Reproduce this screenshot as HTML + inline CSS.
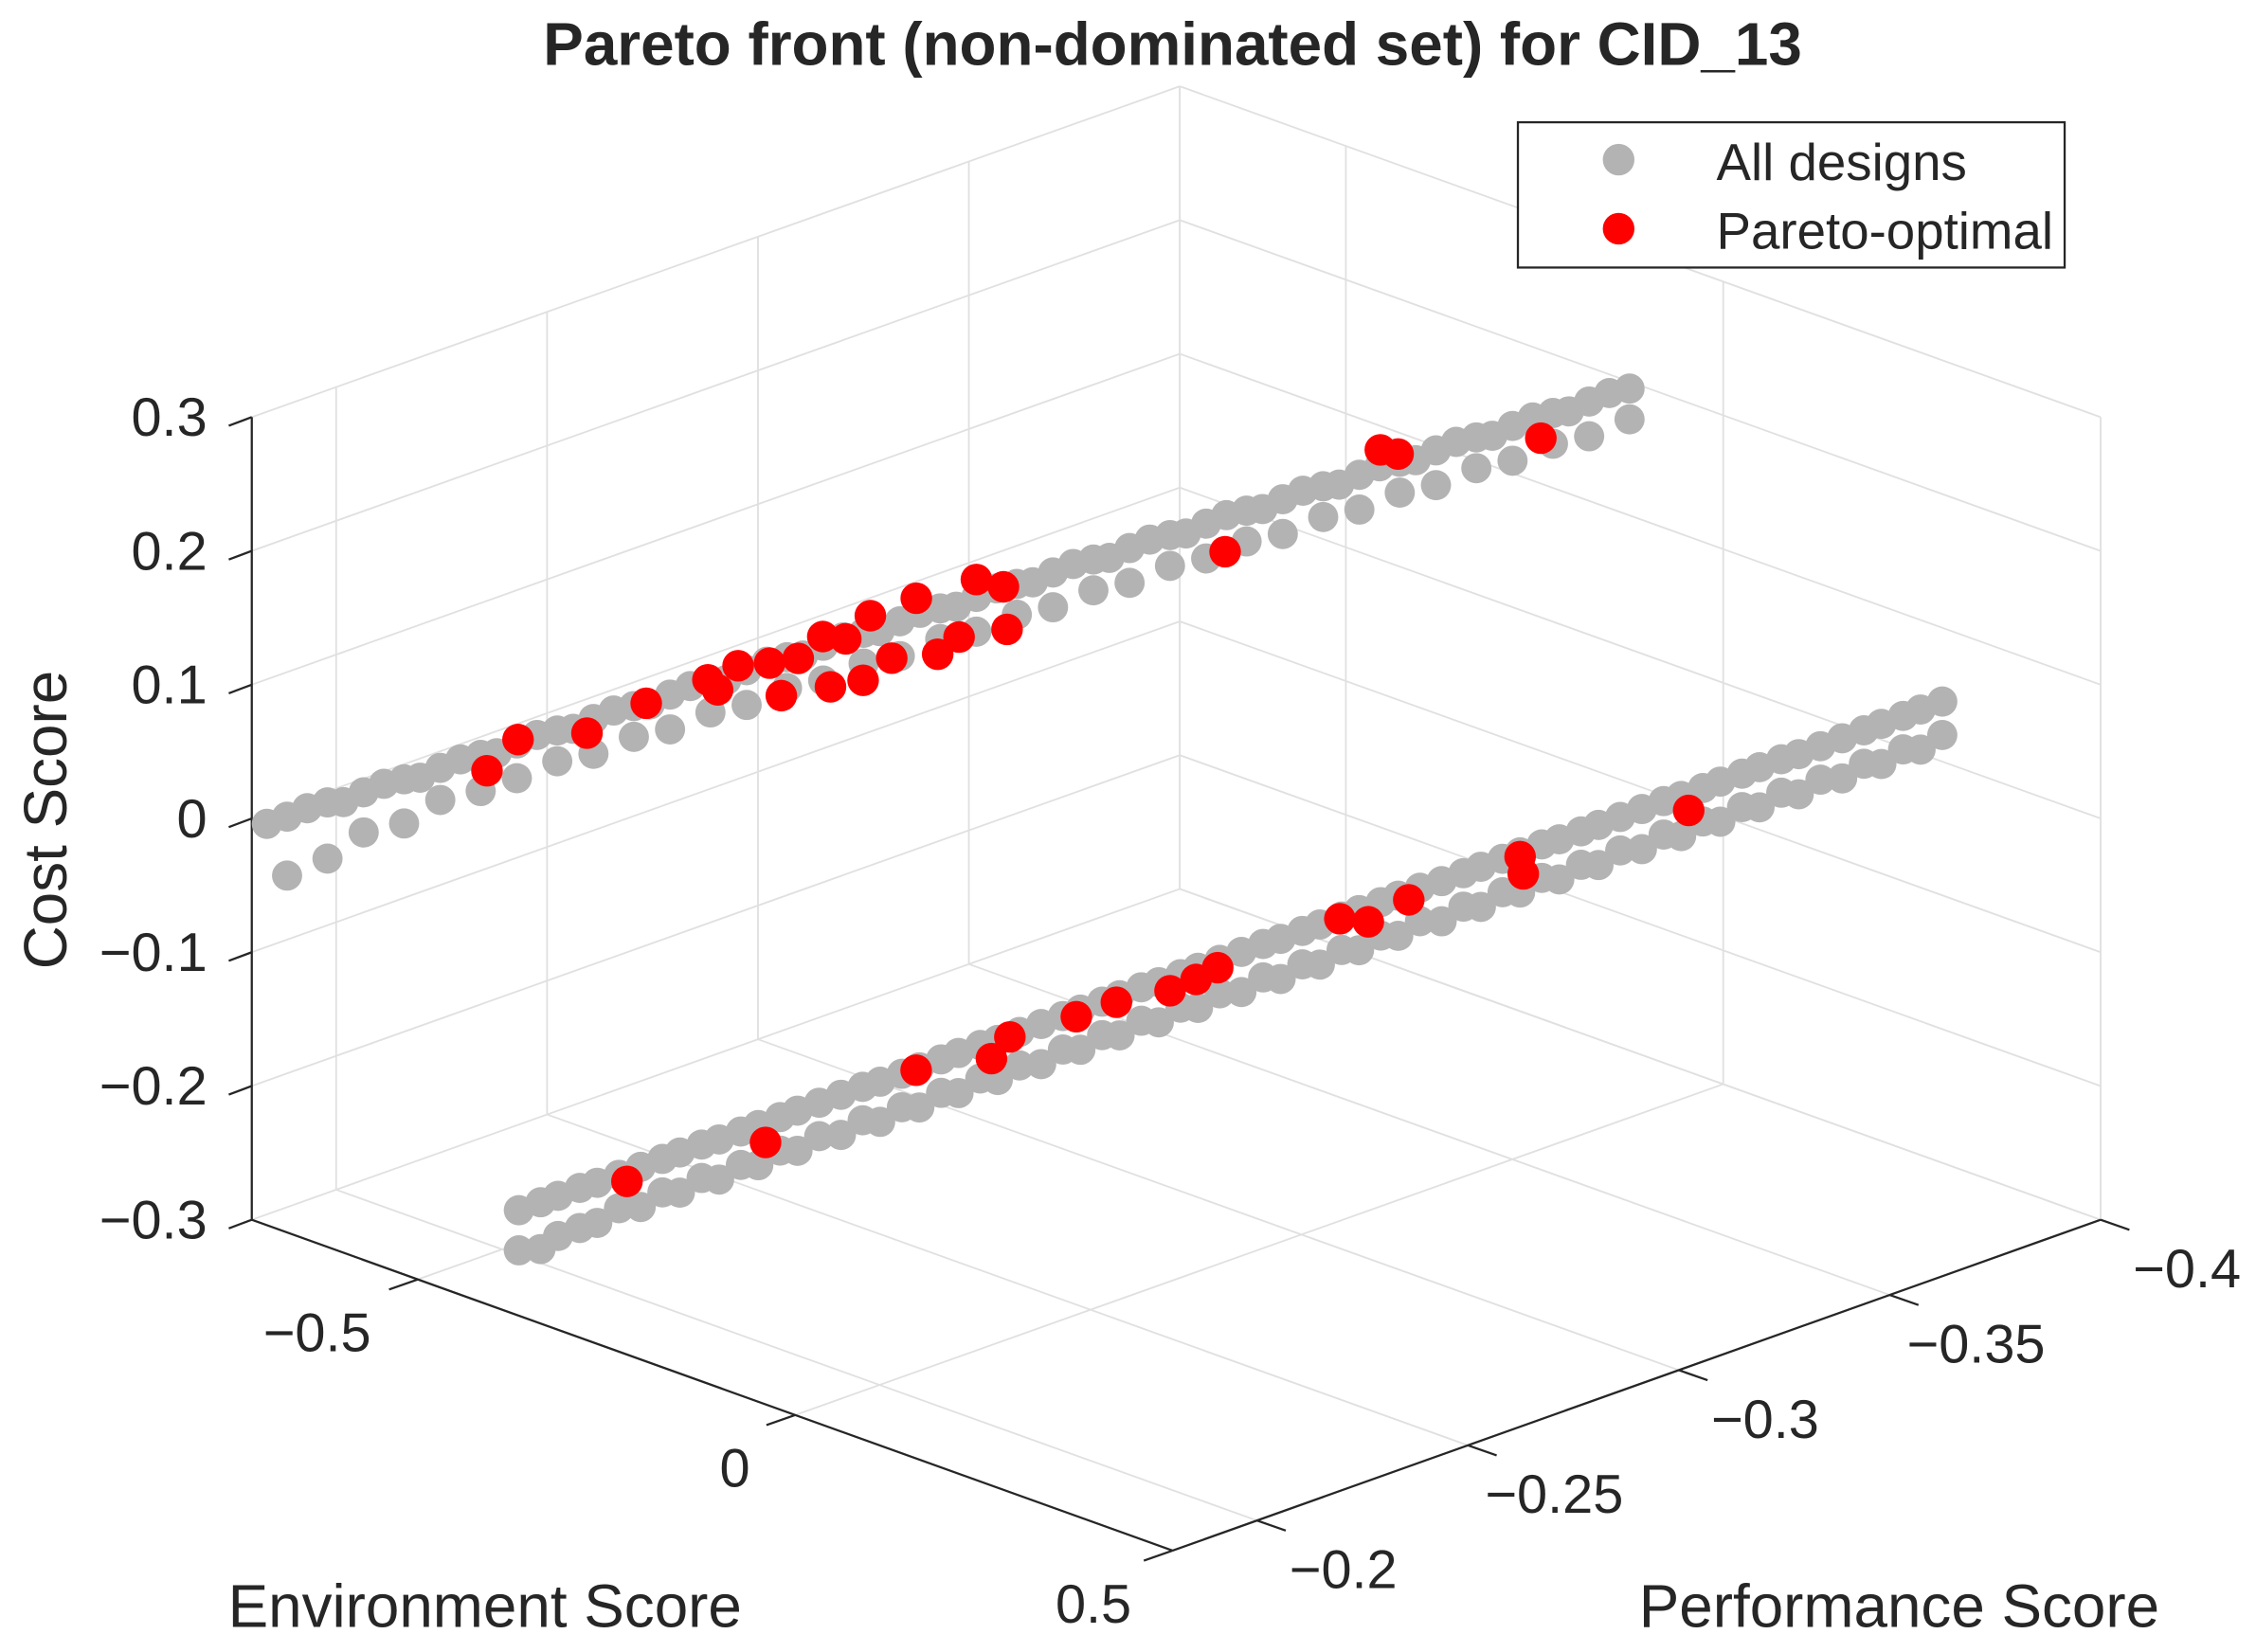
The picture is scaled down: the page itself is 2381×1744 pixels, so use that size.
<!DOCTYPE html>
<html><head><meta charset="utf-8"><style>
html,body{margin:0;padding:0;background:#fff;}
svg{display:block;}
text{font-family:"Liberation Sans",Arial,sans-serif;fill:#262626;}
</style></head><body>
<svg id="chart" width="2381" height="1744" viewBox="0 0 1568 1148.5" preserveAspectRatio="none" xmlns="http://www.w3.org/2000/svg">
<rect width="1568" height="1148.5" fill="#fff"/>
<g id="grid"></g>
<g id="axes"></g>
<g id="gray"></g>
<g id="red"></g>
<text x="815" y="45" text-anchor="middle" font-weight="bold" fill="#000" style="font-size:42px">Pareto front (non-dominated set) for CID_13</text>
<text transform="translate(46,570) rotate(-90)" text-anchor="middle" font-size="42">Cost Score</text>
<text x="337" y="1131" text-anchor="middle" font-size="42">Environment Score</text>
<text x="1320" y="1131" text-anchor="middle" font-size="42">Performance Score</text>
<g>
<rect x="1055" y="85" width="380" height="101" fill="#fff" stroke="#262626" stroke-width="1.5"/>
<circle cx="1125" cy="111" r="11" fill="#b3b3b3"/>
<text x="1193" y="125" font-size="36" fill="#000">All designs</text>
<circle cx="1125" cy="159" r="11" fill="#ff0000"/>
<text x="1193" y="173" font-size="36" fill="#000">Pareto-optimal</text>
</g>
</svg>
<script>
const envTicks=[-0.5,0,0.5];
const envTickLabels=["\u22120.5","0","0.5"];
const perfTicks=[-0.2,-0.25,-0.3,-0.35,-0.4];
const perfTickLabels=["\u22120.2","\u22120.25","\u22120.3","\u22120.35","\u22120.4"];
const costTicks=[0.3,0.2,0.1,0,-0.1,-0.2,-0.3];
const costTickLabels=["0.3","0.2","0.1","0","\u22120.1","\u22120.2","\u22120.3"];

const upperAEnv=[-0.70,-0.68,-0.66,-0.64,-0.62,-0.60,-0.58,-0.56,-0.54,-0.52,-0.50,-0.48,-0.46,-0.44,-0.42,-0.40,-0.38,-0.36,-0.34,-0.32,-0.30,-0.28,-0.26,-0.24,-0.22,-0.20,-0.18,-0.16,-0.14,-0.12,-0.10,-0.08,-0.06,-0.04,-0.02,0.00];
const upperAPerf=[-0.180,-0.186,-0.191,-0.197,-0.202,-0.208,-0.213,-0.219,-0.224,-0.230,-0.235,-0.241,-0.246,-0.252,-0.257,-0.263,-0.268,-0.274,-0.279,-0.285,-0.290,-0.296,-0.301,-0.307,-0.312,-0.318,-0.323,-0.329,-0.334,-0.340,-0.345,-0.351,-0.356,-0.362,-0.367,-0.373];
const upperACost=[0.000,0.009,0.012,0.023,0.026,0.037,0.040,0.051,0.054,0.065,0.068,0.079,0.082,0.093,0.096,0.107,0.110,0.121,0.124,0.135,0.138,0.149,0.152,0.163,0.166,0.177,0.180,0.191,0.194,0.205,0.208,0.219,0.222,0.233,0.236,0.247];
const upperBEnv=[-0.69,-0.67,-0.65,-0.63,-0.61,-0.59,-0.57,-0.55,-0.53,-0.51,-0.49,-0.47,-0.45,-0.43,-0.41,-0.39,-0.37,-0.35,-0.33,-0.31,-0.29,-0.27,-0.25,-0.23,-0.21,-0.19,-0.17,-0.15,-0.13,-0.11,-0.09,-0.07,-0.05,-0.03,-0.01,0.01];
const upperBPerf=[-0.183,-0.189,-0.194,-0.200,-0.205,-0.211,-0.216,-0.222,-0.227,-0.233,-0.238,-0.244,-0.249,-0.255,-0.260,-0.266,-0.271,-0.277,-0.282,-0.288,-0.293,-0.299,-0.304,-0.310,-0.315,-0.321,-0.326,-0.332,-0.337,-0.343,-0.348,-0.354,-0.359,-0.365,-0.370,-0.376];
const upperBCost=[-0.040,-0.030,-0.012,-0.008,0.008,0.012,0.020,0.030,0.034,0.044,0.048,0.058,0.062,0.072,0.076,0.086,0.090,0.100,0.104,0.114,0.118,0.128,0.132,0.142,0.146,0.156,0.160,0.170,0.174,0.184,0.188,0.198,0.202,0.212,0.216,0.226];
const upperCCost=[0.004,0.012,0.018,0.025,0.032,0.039,0.046,0.053,0.060,0.067,0.074,0.081,0.088,0.095,0.102,0.109,0.116,0.123,0.130,0.137,0.144,0.151,0.158,0.165,0.172,0.179,0.186,0.193,0.200,0.207,0.214,0.221,0.228,0.235,0.242,0.249];
const lowerAEnv=[-0.450,-0.426,-0.402,-0.378,-0.354,-0.330,-0.306,-0.282,-0.258,-0.234,-0.210,-0.186,-0.162,-0.138,-0.114,-0.090,-0.066,-0.042,-0.018,0.006,0.030,0.054,0.078,0.102,0.126,0.150,0.174,0.198,0.222,0.246,0.270,0.294,0.318,0.342,0.366,0.390];
const lowerAPerf=[-0.195,-0.200,-0.205,-0.211,-0.216,-0.221,-0.226,-0.231,-0.237,-0.242,-0.247,-0.252,-0.257,-0.263,-0.268,-0.273,-0.278,-0.283,-0.289,-0.294,-0.299,-0.304,-0.309,-0.315,-0.320,-0.325,-0.330,-0.335,-0.341,-0.346,-0.351,-0.356,-0.361,-0.367,-0.372,-0.377];
const lowerACost=[-0.255,-0.245,-0.236,-0.226,-0.216,-0.207,-0.197,-0.187,-0.177,-0.168,-0.158,-0.148,-0.139,-0.129,-0.119,-0.109,-0.100,-0.090,-0.080,-0.071,-0.061,-0.051,-0.041,-0.032,-0.022,-0.012,-0.003,0.007,0.017,0.026,0.036,0.046,0.055,0.065,0.075,0.085];
const lowerBEnv=[-0.438,-0.414,-0.390,-0.366,-0.342,-0.318,-0.294,-0.270,-0.246,-0.222,-0.198,-0.174,-0.150,-0.126,-0.102,-0.078,-0.054,-0.030,-0.006,0.018,0.042,0.066,0.090,0.114,0.138,0.162,0.186,0.210,0.234,0.258,0.282,0.306,0.330,0.354,0.378,0.402];
const lowerBPerf=[-0.198,-0.203,-0.208,-0.214,-0.219,-0.224,-0.229,-0.234,-0.240,-0.245,-0.250,-0.255,-0.260,-0.266,-0.271,-0.276,-0.281,-0.286,-0.292,-0.297,-0.302,-0.307,-0.312,-0.318,-0.323,-0.328,-0.333,-0.338,-0.344,-0.349,-0.354,-0.359,-0.364,-0.370,-0.375,-0.380];
const lowerBCost=[-0.285,-0.270,-0.256,-0.246,-0.236,-0.227,-0.217,-0.207,-0.197,-0.188,-0.178,-0.168,-0.159,-0.149,-0.139,-0.129,-0.120,-0.110,-0.100,-0.091,-0.081,-0.071,-0.061,-0.052,-0.042,-0.032,-0.023,-0.013,-0.003,0.006,0.016,0.026,0.035,0.045,0.055,0.065];
const lowerCCost=[-0.250,-0.240,-0.231,-0.221,-0.211,-0.202,-0.192,-0.182,-0.172,-0.163,-0.153,-0.143,-0.134,-0.124,-0.114,-0.104,-0.095,-0.085,-0.075,-0.066,-0.056,-0.046,-0.036,-0.027,-0.017,-0.007,0.002,0.012,0.022,0.031,0.041,0.051,0.060,0.070,0.080,0.090];
const lowerDCost=[-0.285,-0.275,-0.266,-0.256,-0.246,-0.237,-0.227,-0.217,-0.207,-0.198,-0.188,-0.178,-0.169,-0.159,-0.149,-0.139,-0.130,-0.120,-0.110,-0.101,-0.091,-0.081,-0.071,-0.062,-0.052,-0.042,-0.033,-0.023,-0.013,-0.004,0.006,0.016,0.025,0.035,0.045,0.055];

const paretoEnv=[-0.585,-0.569,-0.533,-0.502,-0.470,-0.465,-0.454,-0.438,-0.432,-0.423,-0.410,-0.406,-0.398,-0.389,-0.385,-0.374,-0.361,-0.350,-0.339,-0.330,-0.316,-0.314,-0.200,-0.119,-0.110,-0.036,
 -0.385,-0.302,-0.212,-0.167,-0.156,-0.116,-0.092,-0.060,-0.044,-0.031,0.042,0.059,0.083,0.150,0.152,0.251];
const paretoPerf=[-0.2116,-0.2161,-0.226,-0.2345,-0.2434,-0.2448,-0.2477,-0.2523,-0.254,-0.2564,-0.2599,-0.261,-0.2632,-0.2657,-0.2667,-0.2698,-0.2733,-0.2764,-0.2795,-0.282,-0.2859,-0.2864,-0.3177,-0.340,-0.3426,-0.3632,
 -0.209,-0.227,-0.2466,-0.2564,-0.2588,-0.2674,-0.2726,-0.2796,-0.2829,-0.2857,-0.3016,-0.3053,-0.3106,-0.325,-0.3254,-0.3469];
const paretoCost=[0.0275,0.049,0.050,0.069,0.083,0.075,0.092,0.092,0.067,0.094,0.109,0.071,0.106,0.074,0.122,0.089,0.1325,0.0894,0.101,0.143,0.136,0.104,0.150,0.2175,0.2133,0.217,
 -0.236,-0.2103,-0.1601,-0.1533,-0.1376,-0.124,-0.1142,-0.107,-0.099,-0.0907,-0.0572,-0.0602,-0.0449,-0.0152,-0.0281,0.0152];

const ENV_MIN=-0.72, ENV_MAX=0.5, PERF_FRONT=-0.18, PERF_BACK=-0.40, Z_MIN=-0.3, Z_PX=930;
const FRONT=[815,1078], EV=[640,230], PV=[645,-230];
function proj(e,p,z){
  const fe=(ENV_MAX-e)/(ENV_MAX-ENV_MIN);
  const fp=(p-PERF_FRONT)/(PERF_BACK-PERF_FRONT);
  return [FRONT[0]-fe*EV[0]+fp*PV[0], FRONT[1]-fe*EV[1]+fp*PV[1]-(z-Z_MIN)*Z_PX];
}
const NS="http://www.w3.org/2000/svg";
function line(g,a,b,col,w,name){
  const l=document.createElementNS(NS,'line');
  l.setAttribute('x1',a[0]);l.setAttribute('y1',a[1]);l.setAttribute('x2',b[0]);l.setAttribute('y2',b[1]);
  l.setAttribute('stroke',col);l.setAttribute('stroke-width',w);
  
  
  g.appendChild(l);
}
function txt(g,x,y,s,anchor,name){
  const t=document.createElementNS(NS,'text');
  t.setAttribute('x',x);t.setAttribute('y',y);t.setAttribute('text-anchor',anchor);t.setAttribute('font-size','38');
  t.textContent=s;
  
  
  g.appendChild(t);
}
const grid=document.getElementById('grid'), axes=document.getElementById('axes');
const GC='#e0e0e0';
perfTicks.forEach(p=>line(grid,proj(ENV_MIN,p,-0.3),proj(ENV_MIN,p,0.3),GC,1.2,'grid-line'));
costTicks.forEach(z=>line(grid,proj(ENV_MIN,PERF_FRONT,z),proj(ENV_MIN,PERF_BACK,z),GC,1.2,'grid-line'));
envTicks.forEach(e=>line(grid,proj(e,PERF_BACK,-0.3),proj(e,PERF_BACK,0.3),GC,1.2,'grid-line'));
costTicks.forEach(z=>line(grid,proj(ENV_MIN,PERF_BACK,z),proj(ENV_MAX,PERF_BACK,z),GC,1.2,'grid-line'));
line(grid,proj(ENV_MIN,PERF_BACK,-0.3),proj(ENV_MIN,PERF_BACK,0.3),GC,1.2,'grid-line');
envTicks.forEach(e=>line(grid,proj(e,PERF_FRONT,-0.3),proj(e,PERF_BACK,-0.3),GC,1.2,'grid-line'));
perfTicks.forEach(p=>line(grid,proj(ENV_MIN,p,-0.3),proj(ENV_MAX,p,-0.3),GC,1.2,'grid-line'));
const AC='#262626';
line(axes,proj(ENV_MIN,PERF_FRONT,-0.3),proj(ENV_MIN,PERF_FRONT,0.3),AC,1.5,'z-axis-line');
line(axes,proj(ENV_MIN,PERF_FRONT,-0.3),proj(ENV_MAX,PERF_FRONT,-0.3),AC,1.5,'x-axis-line');
line(axes,proj(ENV_MAX,PERF_FRONT,-0.3),proj(ENV_MAX,PERF_BACK,-0.3),AC,1.5,'y-axis-line');
costTicks.forEach((z,i)=>{const a=proj(ENV_MIN,PERF_FRONT,z);line(axes,a,[a[0]-16,a[1]+6],AC,1.5,'z-tick');
  txt(axes,a[0]-31,a[1]+13,costTickLabels[i],'end','z-tick-label');});
const envLabelDx=[-70,-42,-55];
envTicks.forEach((e,i)=>{const a=proj(e,PERF_FRONT,-0.3);line(axes,a,[a[0]-20,a[1]+7],AC,1.5,'x-tick');
  txt(axes,a[0]+envLabelDx[i],a[1]+50,envTickLabels[i],'middle','x-tick-label');});
perfTicks.forEach((p,i)=>{const a=proj(ENV_MAX,p,-0.3);line(axes,a,[a[0]+20,a[1]+7],AC,1.5,'y-tick');
  txt(axes,a[0]+60,a[1]+47,perfTickLabels[i],'middle','y-tick-label');});
function draw(gid,E,P,Z,col,r,name){
  const g=document.getElementById(gid);
  for(let i=0;i<E.length;i++){
    const q=proj(E[i],P[i],Z[i]);
    const c=document.createElementNS(NS,'circle');
    c.setAttribute('cx',q[0]);c.setAttribute('cy',q[1]);c.setAttribute('r',r);c.setAttribute('fill',col);
    
    
    g.appendChild(c);
  }
}
draw('gray',upperBEnv,upperBPerf,upperBCost,'#b3b3b3',10.5,'design-point');
draw('gray',upperAEnv,upperAPerf,upperACost,'#b3b3b3',10.5,'design-point');
draw('gray',upperBEnv,upperBPerf,upperCCost,'#b3b3b3',10.5,'design-point');
draw('gray',lowerAEnv,lowerAPerf,lowerDCost,'#b3b3b3',10.5,'design-point');
draw('gray',lowerBEnv,lowerBPerf,lowerBCost,'#b3b3b3',10.5,'design-point');
draw('gray',lowerAEnv,lowerAPerf,lowerACost,'#b3b3b3',10.5,'design-point');
draw('gray',lowerBEnv,lowerBPerf,lowerCCost,'#b3b3b3',10.5,'design-point');
draw('red',paretoEnv,paretoPerf,paretoCost,'#ff0000',11,'pareto-point');
</script>
</body></html>
